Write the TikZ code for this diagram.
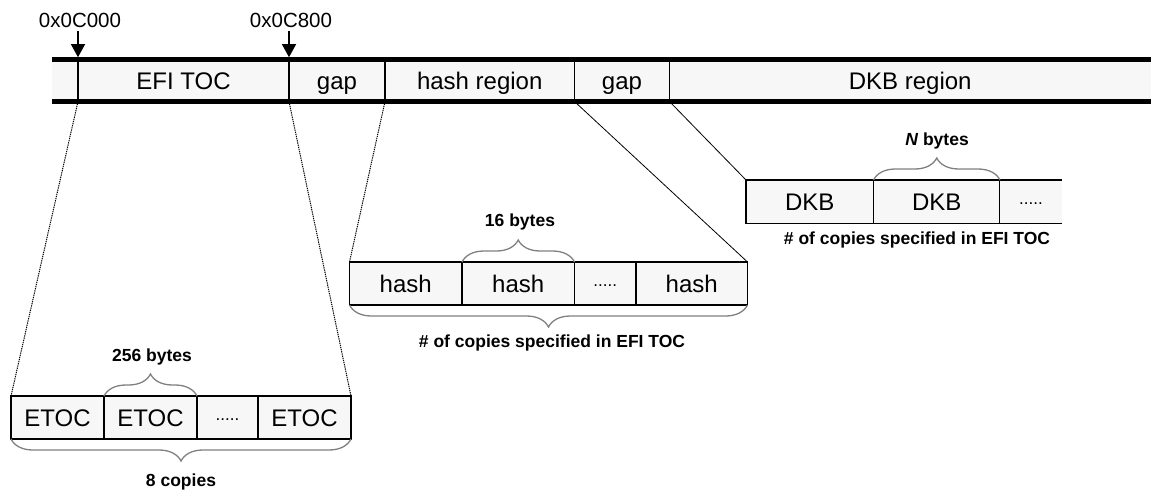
\documentclass[tikz,border=0pt]{standalone}
\usepackage{fontspec}
\setmainfont{Liberation Sans}
\usetikzlibrary{positioning,arrows.meta,decorations.pathreplacing}
\definecolor{feld}{HTML}{F7F7F7}
\definecolor{klammerfarbe}{HTML}{808080}

\begin{document}
\begin{tikzpicture}[x=1pt,y=-1pt,
	segment/.style={fill=feld, minimum height=42pt, inner sep=0pt, outer sep=0pt, text height=17pt, text depth=0pt, font=\fontsize{24}{28}\selectfont},
	zelle/.style={draw, line width=1.2pt, fill=feld, minimum height=43pt, inner sep=0pt, outer sep=0pt, text height=17pt, text depth=0pt, font=\fontsize{24}{28}\selectfont},
	punkte/.style={zelle, text height=5pt, font=\fontsize{17}{20}\selectfont},
	adresse/.style={font=\fontsize{20.5}{24}\selectfont, anchor=base},
	groesse/.style={font=\bfseries\fontsize{17.5}{21}\selectfont, anchor=base},
	balken/.style={line width=4.5pt},
	trenner/.style={line width=1.3pt},
	zeiger/.style={line width=1.3pt, -{Triangle[width=14pt,length=13pt]}},
	lupe/.style={line width=0.8pt},
	punktiert/.style={lupe, line width=1pt, dash pattern=on 1.3pt off 0.9pt},
	klammer/.style={draw=klammerfarbe, line width=1.3pt, decorate, decoration={brace, amplitude=22pt}}]
		
		\useasboundingbox (0,0) rectangle (1151,490);
		
		% Speicherbalken
		\node[segment, minimum width=26pt] (anfang) at (65,80.5) {};
		\node[segment, minimum width=211pt, right=0pt of anfang] (efitoc) {EFI TOC};
		\node[segment, minimum width=96pt, right=0pt of efitoc] (luecke1) {gap};
		\node[segment, minimum width=189.5pt, right=0pt of luecke1] (hashreg) {hash region};
		\node[segment, minimum width=95pt, right=0pt of hashreg] (luecke2) {gap};
		\node[segment, minimum width=481.5pt, right=0pt of luecke2] (dkbreg) {DKB region};
		
		% Adressen
		\node[adresse] (adr1) at (80,27.3) {0x0C000};
		\node[adresse] (adr2) at (291,27.3) {0x0C800};
		\draw[zeiger] (adr1.south -| efitoc.north west) -- ([yshift=2.3pt]efitoc.north west);
		\draw[zeiger] (adr2.south -| luecke1.north west) -- ([yshift=2.3pt]luecke1.north west);
		
		% ETOC Kopien
		\node[zelle, minimum width=93pt] (etoc1) at (57.5,417.5) {ETOC};
		\node[zelle, minimum width=93pt, right=0pt of etoc1] (etoc2) {ETOC};
		\node[punkte, minimum width=61pt, right=0pt of etoc2] (etocp) {.....};
		\node[zelle, minimum width=93pt, right=0pt of etocp] (etoc3) {ETOC};
		
		% Hash Kopien
		\node[zelle, minimum width=112.5pt] (hash1) at (405.75,283.5) {hash};
		\node[zelle, minimum width=112.5pt, right=0pt of hash1] (hash2) {hash};
		\node[punkte, minimum width=61.5pt, right=0pt of hash2] (hashp) {.....};
		\node[zelle, minimum width=111.5pt, right=0pt of hashp] (hash3) {hash};
		
		% DKB Kopien
		\node[zelle, minimum width=127.5pt, minimum height=43.5pt] (dkb1) at (809.75,201.75) {DKB};
		\node[zelle, minimum width=126.5pt, minimum height=43.5pt, right=0pt of dkb1] (dkb2) {DKB};
		\node[punkte, draw=none, minimum width=62pt, minimum height=43.5pt, right=0pt of dkb2] (dkbp) {.....};
		\draw[line width=1.2pt] (dkbp.north west) -- (dkbp.north east);
		\draw[line width=1.2pt] (dkbp.south west) -- (dkbp.south east);
		
		% Klammern und Groessen
		\draw[klammer] (etoc2.north west) -- (etoc2.north east);
		\draw[klammer] (etoc3.south east) -- (etoc1.south west);
		\draw[klammer] (hash2.north west) -- (hash2.north east);
		\draw[klammer] (hash3.south east) -- (hash1.south west);
		\draw[klammer] (dkb2.north west) -- (dkb2.north east);
		
		\node[groesse] (b256) at (152,361.7) {256 bytes};
		\node[groesse] (kopien8) at (181,486) {8 copies};
		\node[groesse] (b16) at (520,226.7) {16 bytes};
		\node[groesse] (anzahl1) at (552,347.7) {\# of copies specified in EFI TOC};
		\node[groesse] (bN) at (937,145) {\textit{N} bytes};
		\node[groesse] (anzahl2) at (917,244) {\# of copies specified in EFI TOC};
		
		% Lupenlinien
		\draw[punktiert] (efitoc.south west) -- (etoc1.north west);
		\draw[punktiert] (efitoc.south east) -- (etoc3.north east);
		\draw[punktiert] (hashreg.south west) -- (hash1.north west);
		\draw[lupe] (hashreg.south east) -- (hash3.north east);
		\draw[lupe] (dkbreg.south west) -- (dkb1.north west);
		
		% Balkenraender
		\draw[balken] (anfang.north west) -- (dkbreg.north east);
		\draw[balken] (anfang.south west) -- (dkbreg.south east);
		\foreach \s in {efitoc,luecke1,hashreg,luecke2,dkbreg}
		\draw[trenner] (\s.north west) -- (\s.south west);
		
	\end{tikzpicture}
\end{document}
